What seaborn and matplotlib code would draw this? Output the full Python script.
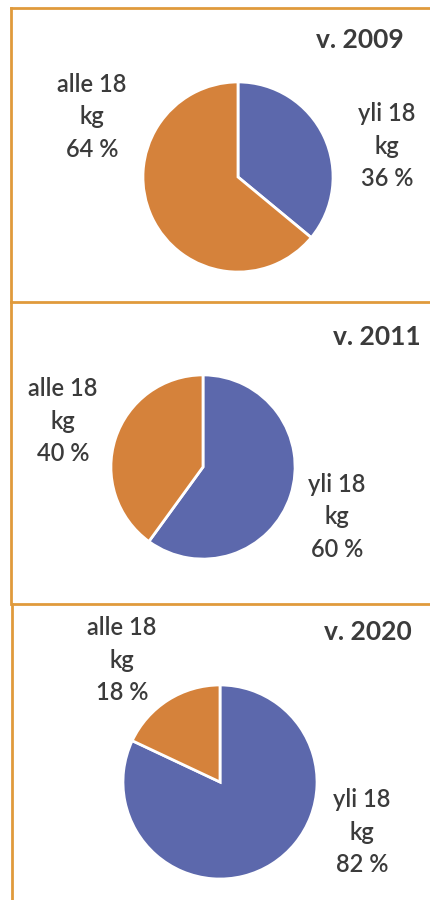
import matplotlib
matplotlib.use("Agg")
import matplotlib.pyplot as plt
import seaborn as sns

# data
years = ["2009", "2011", "2020"]
categories = ["yli 18 kg", "alle 18 kg"]
share_yli = [36, 60, 82]
share_alle = [64, 40, 18]

sns.set_theme(style="white")
plt.rcParams["font.family"] = ["Lato", "DejaVu Sans"]

colors = ["#5C68AC", "#D5823B"]
border = "#E09A3C"
text_col = "#3B3B3B"

W, H = 430, 900
fig = plt.figure(figsize=(W / 100, H / 100), dpi=100)
fig.patch.set_facecolor("white")


def px_rect(x0, y0, x1, y1):
    # pixel box (top-left origin) -> figure fraction rect
    return [x0 / W, 1 - y1 / H, (x1 - x0) / W, (y1 - y0) / H]


def fx(x):
    return x / W


def fy(y):
    return 1 - y / H


# panel frames (left + top border only, right/bottom run off the image)
panels = [(11, 8, 440, 302), (11, 302, 440, 604), (12, 604, 440, 910)]
for (x0, y0, x1, y1) in panels:
    pa = fig.add_axes(px_rect(x0, y0, x1, y1))
    pa.set_xticks([])
    pa.set_yticks([])
    pa.patch.set_alpha(0)
    for side in ["right", "bottom"]:
        pa.spines[side].set_visible(False)
    for side in ["left", "top"]:
        pa.spines[side].set_color(border)
        pa.spines[side].set_linewidth(2)

# pie layout: centre (px) and radius (px)
pie_centres = [(238, 177), (203, 467), (220, 782)]
pie_radius = [96, 93, 98]
title_pos = [(360, 40), (377, 337), (368, 632)]
yli_pos = [(387, 146), (337, 517), (362, 832)]
alle_pos = [(92, 117), (63, 421), (122, 660)]

for i, year in enumerate(years):
    cx, cy = pie_centres[i]
    r = pie_radius[i]
    ax = fig.add_axes(px_rect(cx - r, cy - r, cx + r, cy + r))
    ax.pie([share_yli[i], share_alle[i]], colors=colors, startangle=90,
           counterclock=False,
           wedgeprops=dict(edgecolor="white", linewidth=2))
    ax.set_xlim(-1.01, 1.01)
    ax.set_ylim(-1.01, 1.01)
    ax.set_aspect("equal")

    fig.text(fx(title_pos[i][0]), fy(title_pos[i][1]), f"v. {year}",
             ha="center", va="center", fontsize=19, fontweight="bold",
             color=text_col)

    for cat, val, pos in [(categories[0], share_yli[i], yli_pos[i]),
                          (categories[1], share_alle[i], alle_pos[i])]:
        lbl = "\n".join(cat.rsplit(" ", 1)) + f"\n{val} %"
        fig.text(fx(pos[0]), fy(pos[1]), lbl, ha="center", va="center",
                 fontsize=17, color=text_col, linespacing=1.5,
                 fontweight="semibold")

fig.savefig("out.png", dpi=100)
